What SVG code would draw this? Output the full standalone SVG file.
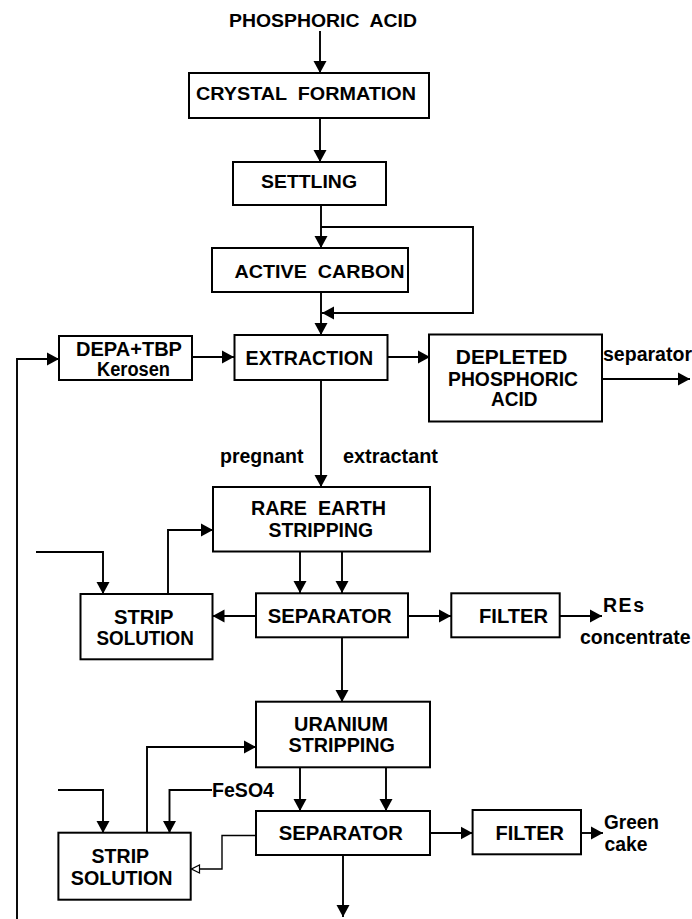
<svg xmlns="http://www.w3.org/2000/svg" width="692" height="919" viewBox="0 0 692 919">
<style>
text{font-family:"Liberation Sans",Arial,Helvetica,sans-serif;font-weight:bold;font-size:19.5px;fill:#000;white-space:pre}
.s{font-size:18.5px}
.box{fill:#fff;stroke:#000;stroke-width:2}
.c{fill:none;stroke:#000;stroke-width:1.9;marker-end:url(#ah)}
.t{fill:none;stroke:#000;stroke-width:1.4;marker-end:url(#oh)}
</style>
<defs>
<marker id="ah" markerUnits="userSpaceOnUse" markerWidth="13" markerHeight="14" refX="12" refY="7" orient="auto"><path d="M0,0.5 L12,7 L0,13.5 z" fill="#000"/></marker>
<marker id="oh" markerUnits="userSpaceOnUse" markerWidth="10" markerHeight="10" refX="9" refY="5" orient="auto"><path d="M1,1 L9,5 L1,9 z" fill="#fff" stroke="#000" stroke-width="1.2"/></marker>
</defs>
<rect width="692" height="919" fill="#fff"/>
<g id="connectors">
<path class="c" d="M320,31 L320,73"/>
<path class="c" d="M320,118 L320,162"/>
<path class="c" d="M321,205 L321,248"/>
<path class="c" d="M321,227 L473,227 L473,313 L322,313"/>
<path class="c" d="M321,292 L321,335"/>
<path class="c" d="M192,357 L234,357"/>
<path class="c" d="M388,357 L430,357"/>
<path class="c" d="M603,379 L690,379"/>
<path class="c" d="M17,919 L17,359 L59,359"/>
<path class="c" d="M321,380 L321,487"/>
<path class="c" d="M36,552 L103,552 L103,594"/>
<path class="c" d="M168,594 L168,530 L213,530"/>
<path class="c" d="M300,552 L300,593"/>
<path class="c" d="M342,552 L342,593"/>
<path class="c" d="M256,616 L212.5,616"/>
<path class="c" d="M408,616 L451,616"/>
<path class="c" d="M560,616 L602,616"/>
<path class="c" d="M342,637 L342,702"/>
<path class="c" d="M147,833 L147,747 L256,747"/>
<path class="c" d="M212,790 L169.5,790 L169.5,833"/>
<path class="c" d="M58,790 L103,790 L103,833"/>
<path class="c" d="M300,767 L300,811"/>
<path class="c" d="M386,767 L386,811"/>
<path class="t" d="M256,835.5 L222,835.5 L222,869 L191.5,869"/>
<path class="c" d="M430,833 L472.5,833"/>
<path class="c" d="M581,833 L603,833"/>
<path class="c" d="M343,855 L343,917"/>
</g>
<g id="phosphoric-acid"><text class="s" x="229" y="27" textLength="188" lengthAdjust="spacingAndGlyphs">PHOSPHORIC  ACID</text></g>
<g id="crystal-formation"><rect class="box" x="189" y="73" width="240" height="45"/><text class="s" x="196" y="100" textLength="220" lengthAdjust="spacingAndGlyphs">CRYSTAL  FORMATION</text></g>
<g id="settling"><rect class="box" x="233" y="162" width="153" height="43"/><text class="s" x="261" y="188" textLength="96" lengthAdjust="spacingAndGlyphs">SETTLING</text></g>
<g id="active-carbon"><rect class="box" x="212" y="248" width="196" height="44"/><text class="s" x="234.5" y="277.5" textLength="170" lengthAdjust="spacingAndGlyphs">ACTIVE  CARBON</text></g>
<g id="extraction"><rect class="box" x="234.5" y="335" width="153" height="45"/><text x="245.6" y="364.5" textLength="127.5" lengthAdjust="spacingAndGlyphs">EXTRACTION</text></g>
<g id="depa-tbp"><rect class="box" x="59" y="336" width="133" height="44"/><text x="76" y="355.7" textLength="106" lengthAdjust="spacingAndGlyphs">DEPA+TBP</text><text x="97" y="375.7" textLength="73" lengthAdjust="spacingAndGlyphs">Kerosen</text></g>
<g id="depleted-acid"><rect class="box" x="429" y="334.5" width="173" height="87"/><text x="455.8" y="364" textLength="111.5" lengthAdjust="spacingAndGlyphs">DEPLETED</text><text x="448" y="385.5" textLength="130" lengthAdjust="spacingAndGlyphs">PHOSPHORIC</text><text x="491" y="406" textLength="46.5" lengthAdjust="spacingAndGlyphs">ACID</text></g>
<g id="separator-label"><text x="603" y="361" textLength="89" lengthAdjust="spacingAndGlyphs">separator</text></g>
<g id="pregnant-extractant"><text x="220" y="462.7" textLength="83.5" lengthAdjust="spacingAndGlyphs">pregnant</text><text x="343" y="462.7" textLength="95" lengthAdjust="spacingAndGlyphs">extractant</text></g>
<g id="rare-earth-stripping"><rect class="box" x="213" y="487" width="217" height="64.5"/><text x="251" y="515" textLength="135" lengthAdjust="spacingAndGlyphs">RARE  EARTH</text><text x="268.6" y="536.7" textLength="104.4" lengthAdjust="spacingAndGlyphs">STRIPPING</text></g>
<g id="strip-solution-1"><rect class="box" x="80.5" y="594" width="132" height="65.3"/><text x="114" y="624" textLength="59.5" lengthAdjust="spacingAndGlyphs">STRIP</text><text x="96.5" y="645" textLength="97.3" lengthAdjust="spacingAndGlyphs">SOLUTION</text></g>
<g id="separator-1"><rect class="box" x="256" y="593.3" width="152" height="44"/><text x="267.7" y="622.7" textLength="124" lengthAdjust="spacingAndGlyphs">SEPARATOR</text></g>
<g id="filter-1"><rect class="box" x="451.3" y="593.3" width="108.4" height="44"/><text x="479" y="622.7" textLength="69" lengthAdjust="spacingAndGlyphs">FILTER</text></g>
<g id="res-concentrate"><text x="603" y="612" textLength="41" lengthAdjust="spacing">REs</text><text x="580" y="644" textLength="110.5" lengthAdjust="spacingAndGlyphs">concentrate</text></g>
<g id="uranium-stripping"><rect class="box" x="256" y="701.7" width="174" height="65.6"/><text x="294" y="730.7" textLength="94" lengthAdjust="spacingAndGlyphs">URANIUM</text><text x="288.5" y="751.7" textLength="106.5" lengthAdjust="spacingAndGlyphs">STRIPPING</text></g>
<g id="feso4"><text x="212" y="796.7" textLength="62" lengthAdjust="spacingAndGlyphs">FeSO4</text></g>
<g id="strip-solution-2"><rect class="box" x="58.4" y="832.7" width="132.3" height="67" /><text x="91.6" y="863.3" textLength="57.5" lengthAdjust="spacingAndGlyphs">STRIP</text><text x="70.8" y="885" textLength="101.8" lengthAdjust="spacingAndGlyphs">SOLUTION</text></g>
<g id="separator-2"><rect class="box" x="256" y="811" width="174" height="44"/><text x="278.8" y="840" textLength="124" lengthAdjust="spacingAndGlyphs">SEPARATOR</text></g>
<g id="filter-2"><rect class="box" x="472.6" y="810" width="108.4" height="44.3"/><text x="495.6" y="840" textLength="68.4" lengthAdjust="spacingAndGlyphs">FILTER</text></g>
<g id="green-cake"><text x="604" y="829.3" textLength="55" lengthAdjust="spacingAndGlyphs">Green</text><text x="604.5" y="850.7" textLength="43" lengthAdjust="spacingAndGlyphs">cake</text></g>
</svg>
